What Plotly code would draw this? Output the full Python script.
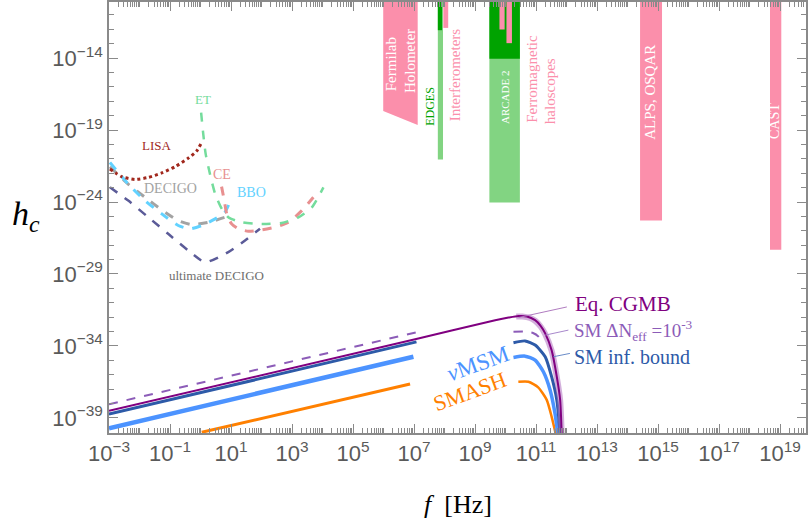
import numpy as np
import plotly.graph_objects as go

# ---------------- data (log10 values) ----------------
lisa_lf = [-2.97, -2.58, -2.15, -1.71, -1.27, -0.84, -0.40, -0.12, 0.02]
lisa_lh = [-21.71, -22.24, -22.43, -22.29, -21.98, -21.55, -20.95, -20.44, -19.93]

decigo_lf = [-2.97, -2.37, -1.82, -1.27, -0.73, -0.29, 0.26, 0.80]
decigo_lh = [-21.55, -22.75, -23.67, -24.55, -25.29, -25.57, -25.41, -25.06]

bbo_lf = [-2.97, -2.37, -1.82, -1.27, -0.73, -0.34, 0.04, 0.48, 0.80, 1.02]
bbo_lh = [-21.25, -22.75, -23.90, -24.82, -25.63, -25.86, -25.63, -25.17, -24.71, -23.67]

udecigo_lf = [-2.97, -2.37, -1.71, -1.06, -0.40, 0.15, 0.91, 1.46, 1.95]
udecigo_lh = [-22.98, -23.90, -25.06, -26.21, -27.37, -28.18, -27.48, -26.67, -25.86]

et_lf = [0.02, 0.09, 0.17, 0.31, 0.48, 0.70, 0.91, 1.35, 2.01, 2.66, 3.21, 3.65, 4.03]
et_lh = [-17.79, -19.28, -20.67, -22.05, -23.44, -24.48, -25.06, -25.41, -25.52, -25.45, -25.06, -24.37, -22.98]

ce_lf = [0.69, 0.78, 0.86, 1.02, 1.24, 1.57, 2.01, 2.44, 2.88, 3.32, 3.70]
ce_lh = [-22.93, -23.90, -24.83, -25.52, -25.86, -26.03, -25.93, -25.75, -25.41, -24.60, -23.67]

# Eq. CGMB (continuous)
cgmb_lf = [-3.0, 7.14, 9.66, 10.1, 10.42, 10.70, 10.97, 11.15, 11.30, 11.51, 11.68, 11.79, 11.84]
cgmb_lh = [-38.51, -33.48, -32.22, -32.03, -31.92, -31.95, -32.21, -32.60, -33.13, -34.29, -36.14, -37.75, -40.06]
cgmb_band_lf = [10.35, 10.55, 10.80, 10.97, 11.15, 11.30, 11.51, 11.68, 11.79, 11.84]
cgmb_band_lh = [-31.95, -31.95, -32.05, -32.25, -32.65, -33.18, -34.33, -36.16, -37.77, -40.06]

# SM Delta N_eff = 1e-3 (dashed)
neff_low_lf = [-3.0, 7.14]
neff_low_lh = [-38.05, -33.02]
neff_peak_lf = [10.26, 10.64, 10.90, 11.08, 11.20]
neff_peak_lh = [-33.02, -33.0, -33.10, -33.35, -33.75]

# SM inflation bound
smib_low_lf = [-3.0, 7.08]
smib_low_lh = [-38.74, -33.72]
smib_peak_lf = [10.26, 10.64, 10.97, 11.30, 11.51, 11.68, 11.79]
smib_peak_lh = [-33.78, -33.65, -33.94, -34.75, -36.14, -37.75, -40.06]

# nuMSM
numsm_low_lf = [-3.0, 6.98]
numsm_low_lh = [-39.72, -34.75]
numsm_peak_lf = [10.26, 10.64, 10.97, 11.24, 11.46, 11.62, 11.71]
numsm_peak_lh = [-34.80, -34.71, -34.98, -35.79, -37.06, -38.67, -40.06]

# SMASH
smash_low_lf = [0.04, 6.87]
smash_low_lh = [-40.0, -36.65]
smash_peak_lf = [10.42, 10.75, 11.07, 11.35, 11.51, 11.64]
smash_peak_lh = [-36.49, -36.49, -36.88, -37.75, -38.91, -40.06]

# exclusion regions: (name, log f min, log f max, log h bottom)
TOP = -9.0
pink_boxes = [
    ("Interferometers", 7.96, 8.12, -11.9),
    ("ferro1", 9.80, 9.97, -12.01),
    ("ferro2", 10.03, 10.21, -12.96),
    ("ALPS", 14.41, 15.13, -25.29),
    ("CAST", 18.67, 19.04, -27.32),
]
light_green_boxes = [
    ("EDGES", 7.78, 7.95, -21.04),
    ("ARCADE", 9.47, 10.47, -24.04),
]
dark_green_boxes = [
    ("EDGES", 7.78, 7.92, -12.06),
    ("ARCADE", 9.47, 10.47, -14.05),
]
# Fermilab holometer trapezoid
holo_lf = [5.99, 7.12, 7.12, 5.99]
holo_lh = [TOP, TOP, -18.64, -17.67]

# pointer lines
ptr_cgmb_lf = [12.01, 10.42]
ptr_cgmb_lh = [-31.29, -32.03]
ptr_neff_lf = [12.06, 11.30]
ptr_neff_lh = [-32.90, -33.25]
ptr_smib_lf = [12.11, 11.57]
ptr_smib_lh = [-34.52, -34.75]

x_major_exp = list(range(-3, 20, 2))
y_major_exp = [-39, -34, -29, -24, -19, -14]

# ---------------- colours ----------------
PINK = "#fb8fab"
LGREEN = "#82d482"
DGREEN = "#00a300"
C_LISA = "#a1281d"
C_DECIGO = "#a3a3a3"
C_BBO = "#62d2ff"
C_UDEC = "#5b5b98"
C_ET = "#74dc9c"
C_CE = "#e89090"
C_CGMB = "#800080"
C_NEFF = "#8c5cb8"
C_SMIB = "#2d5aa8"
C_NUMSM = "#4c93ff"
C_SMASH = "#ff8000"

P = lambda a: list(10.0 ** np.array(a, dtype=float))

fig = go.Figure()

def line(lf, lh, color, width, dash="solid", opacity=1.0):
    fig.add_trace(go.Scatter(x=P(lf), y=P(lh), mode="lines", opacity=opacity,
                             line=dict(color=color, width=width, dash=dash, shape="spline", smoothing=0.6),
                             hoverinfo="skip", showlegend=False))

def box(x0, x1, y0, color):
    fig.add_trace(go.Scatter(x=P([x0, x1, x1, x0, x0]), y=P([TOP, TOP, y0, y0, TOP]),
                             mode="lines", fill="toself", fillcolor=color,
                             line=dict(width=0, color=color), hoverinfo="skip", showlegend=False))

# exclusion regions
fig.add_trace(go.Scatter(x=P(holo_lf + holo_lf[:1]), y=P(holo_lh + holo_lh[:1]), mode="lines",
                         fill="toself", fillcolor=PINK, line=dict(width=0, color=PINK),
                         hoverinfo="skip", showlegend=False))
for _, a, b, c in light_green_boxes:
    box(a, b, c, LGREEN)
for _, a, b, c in dark_green_boxes:
    box(a, b, c, DGREEN)
for _, a, b, c in pink_boxes:
    box(a, b, c, PINK)

# detector sensitivity curves
line(udecigo_lf, udecigo_lh, C_UDEC, 2.5, "dash")
line(decigo_lf, decigo_lh, C_DECIGO, 3, "dash")
line(bbo_lf, bbo_lh, C_BBO, 3, "dash")
line(lisa_lf, lisa_lh, C_LISA, 3, "dot")
line(ce_lf, ce_lh, C_CE, 3, "dash")
line(et_lf, et_lh, C_ET, 2.5, "dash")

# spectra
line(smash_low_lf, smash_low_lh, C_SMASH, 3)
line(smash_peak_lf, smash_peak_lh, C_SMASH, 2.5)
line(numsm_low_lf, numsm_low_lh, C_NUMSM, 4.5)
line(numsm_peak_lf, numsm_peak_lh, C_NUMSM, 3.5)
line(smib_low_lf, smib_low_lh, C_SMIB, 3)
line(smib_peak_lf, smib_peak_lh, C_SMIB, 3)
line(cgmb_band_lf, cgmb_band_lh, "#b070c0", 6, opacity=0.55)
line(neff_low_lf, neff_low_lh, C_NEFF, 2, "dash")
line(neff_peak_lf, neff_peak_lh, C_NEFF, 2, "dash")
line(cgmb_lf, cgmb_lh, C_CGMB, 2)

for lf, lh, col in [(ptr_cgmb_lf, ptr_cgmb_lh, "#b07cc0"), (ptr_neff_lf, ptr_neff_lh, "#a888cc"),
                    (ptr_smib_lf, ptr_smib_lh, "#6a8cc8")]:
    fig.add_trace(go.Scatter(x=P(lf), y=P(lh), mode="lines", line=dict(color=col, width=1),
                             hoverinfo="skip", showlegend=False))

SERIF = "Liberation Serif"

def label(text, lf, lh, color, size, angle=0, xanchor="center"):
    fig.add_annotation(x=lf, y=lh, xref="x", yref="y", text=text, showarrow=False,
                       textangle=angle, xanchor=xanchor, yanchor="middle",
                       font=dict(family=SERIF, size=size, color=color))

label("LISA", -1.44, -20.09, C_LISA, 13)
label("DECIGO", -0.97, -23.05, C_DECIGO, 14)
label("ET", 0.07, -16.86, C_ET, 13)
label("CE", 0.71, -22.1, C_CE, 14)
label("BBO", 1.68, -23.35, C_BBO, 14)
label("ultimate DECIGO", 0.53, -29.1, "#6e6e6e", 13)
label("Fermilab", 6.27, -14.44, "white", 15, -90)
label("Holometer", 6.87, -14.2, "white", 15, -90)
label("EDGES", 7.52, -17.32, DGREEN, 12, -90)
label("Interferometers", 8.34, -15.13, PINK, 15, -90)
label("ARCADE 2", 9.96, -16.75, "white", 11, -90)
label("Ferromagnetic", 10.88, -15.41, PINK, 15, -90)
label("haloscopes", 11.46, -16.29, PINK, 15, -90)
label("ALPS, OSQAR", 14.74, -16.4, "white", 15, -90)
label("CAST", 18.84, -18.36, "white", 14, -90)
label("Eq. CGMB", 12.22, -31.06, C_CGMB, 21, 0, "left")
label("SM ΔN<sub>eff</sub> =10<sup>-3</sup>", 12.17, -32.9, C_NEFF, 19, 0, "left")
label("SM inf. bound", 12.17, -34.75, C_SMIB, 20, 0, "left")
label("<i>ν</i>MSM", 9.11, -35.21, C_NUMSM, 23, -20)
label("SMASH", 8.84, -37.18, C_SMASH, 22, -20)

fig.add_annotation(x=-0.119, y=0.503, xref="paper", yref="paper", showarrow=False,
                   xanchor="center", yanchor="middle",
                   text="<i>h</i><sub><i>c</i></sub>", font=dict(family=SERIF, size=34, color="black"))
fig.add_annotation(x=0.50, y=-0.167, xref="paper", yref="paper", showarrow=False,
                   xanchor="center", yanchor="middle",
                   text="<i>f</i>  [Hz]", font=dict(family=SERIF, size=26, color="black"))

def sup(e):
    return "10<sup>" + ("\u2212" + str(-e) if e < 0 else str(e)) + "</sup>"

x_minor = [k * 10.0 ** e for e in range(-3, 20) for k in range(1, 10)]
y_minor = [10.0 ** e for e in range(-40, -9)]

AX = "#8a8a8a"
common = dict(showline=True, linecolor=AX, linewidth=1.5, mirror="allticks", ticks="inside",
              tickcolor=AX, showgrid=False, zeroline=False, automargin=False,
              tickfont=dict(family="Liberation Sans", size=22, color="#5a5a5a"))

fig.update_xaxes(type="log", range=[-3, 19.85],
                 tickvals=[10.0 ** e for e in x_major_exp], ticktext=[sup(e) for e in x_major_exp],
                 ticklen=9, tickwidth=1.2,
                 minor=dict(tickvals=x_minor, ticks="inside", ticklen=5, tickcolor=AX, tickwidth=1, showgrid=False),
                 **common)
fig.update_yaxes(type="log", range=[-40.05, -10.1],
                 tickvals=[10.0 ** e for e in y_major_exp], ticktext=[sup(e) for e in y_major_exp],
                 ticklen=9, tickwidth=1.2,
                 minor=dict(tickvals=y_minor, ticks="inside", ticklen=5, tickcolor=AX, tickwidth=1, showgrid=False),
                 **common)

fig.update_layout(width=810, height=518, margin=dict(l=109, r=4, t=2, b=85),
                  plot_bgcolor="white", paper_bgcolor="white", showlegend=False)

fig.write_html("out.html", config={"displayModeBar": False},
               post_script="document.body.style.margin='0';document.body.style.overflow='hidden';")
